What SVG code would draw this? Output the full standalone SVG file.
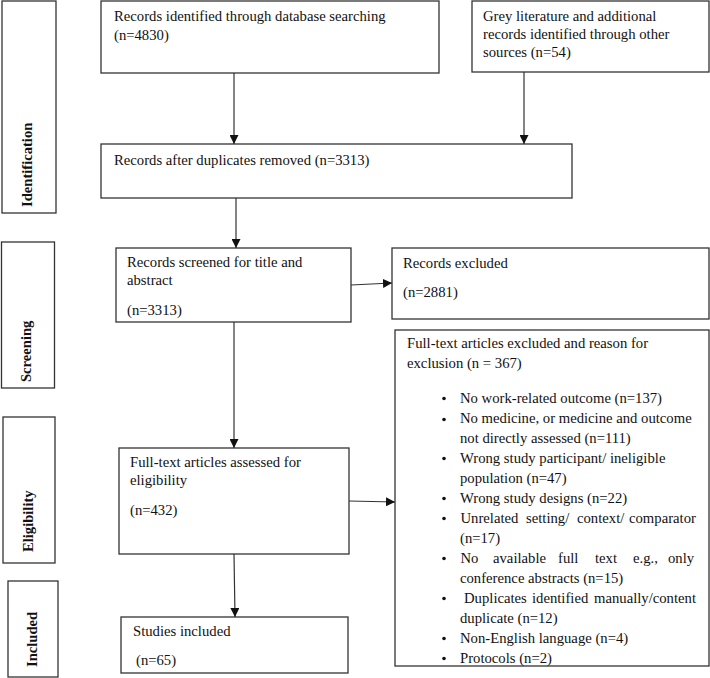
<svg xmlns="http://www.w3.org/2000/svg" width="710" height="678" viewBox="0 0 710 678">
<defs>
<marker id="ah" viewBox="0 0 10 10" refX="10" refY="5" markerWidth="9" markerHeight="9" markerUnits="userSpaceOnUse" orient="auto">
<path d="M0,0 L10,5 L0,10 Z" fill="#111"/>
</marker>
</defs>
<style>
.box{fill:#fff;stroke:#333;stroke-width:1.3}
.t{font-family:"Liberation Serif","Times New Roman",Times,serif;font-size:14.7px;fill:#111}
.side{font-family:"Liberation Serif","Times New Roman",Times,serif;font-size:14.6px;font-weight:bold;fill:#111}
.c{fill:none;stroke:#333;stroke-width:1.2;marker-end:url(#ah)}
.dot{fill:#111}
</style>
<rect width="710" height="678" fill="#fff"/>
<g id="side-identification"><rect class="box" x="2" y="1" width="54" height="212"/><text class="side" transform="translate(32,207) rotate(-90)">Identification</text></g>
<g id="side-screening"><rect class="box" x="1.5" y="242" width="53" height="146"/><text class="side" transform="translate(31,382) rotate(-90)">Screening</text></g>
<g id="side-eligibility"><rect class="box" x="3" y="417" width="52" height="146"/><text class="side" transform="translate(33,552) rotate(-90)">Eligibility</text></g>
<g id="side-included"><rect class="box" x="8" y="581" width="50" height="96"/><text class="side" transform="translate(37,667) rotate(-90)">Included</text></g>
<g id="n-db"><rect class="box" x="101" y="1" width="338" height="72"/><text class="t" x="114" y="21">Records identified through database searching</text><text class="t" x="114" y="40">(n=4830)</text></g>
<g id="n-grey"><rect class="box" x="472" y="1" width="237" height="71"/><text class="t" x="483" y="21">Grey literature and additional</text><text class="t" x="483" y="39">records identified through other</text><text class="t" x="483" y="57">sources (n=54)</text></g>
<g id="n-dup"><rect class="box" x="101" y="144" width="471" height="54"/><text class="t" x="114" y="165">Records after duplicates removed (n=3313)</text></g>
<g id="n-screened"><rect class="box" x="116" y="248" width="235" height="74"/><text class="t" x="127" y="267">Records screened for title and</text><text class="t" x="127" y="285">abstract</text><text class="t" x="127" y="315">(n=3313)</text></g>
<g id="n-excluded"><rect class="box" x="392" y="248" width="317" height="71"/><text class="t" x="403" y="268">Records excluded</text><text class="t" x="403" y="297">(n=2881)</text></g>
<g id="n-ftexcluded"><rect class="box" x="395" y="330" width="314" height="336"/>
<text class="t" x="407" y="348">Full-text articles excluded and reason for</text>
<text class="t" x="407" y="368">exclusion (n = 367)</text>
<circle class="dot" cx="444" cy="398.5" r="1.8"/><text class="t" x="460" y="403">No work-related outcome (n=137)</text>
<circle class="dot" cx="444" cy="419.5" r="1.8"/><text class="t" x="460" y="423">No medicine, or medicine and outcome</text>
<text class="t" x="460" y="443">not directly assessed (n=111)</text>
<circle class="dot" cx="444" cy="458.5" r="1.8"/><text class="t" x="460" y="463">Wrong study participant/ ineligible</text>
<text class="t" x="460" y="483">population (n=47)</text>
<circle class="dot" cx="444" cy="498.5" r="1.8"/><text class="t" x="460" y="503">Wrong study designs (n=22)</text>
<circle class="dot" cx="444" cy="518.5" r="1.8"/><text class="t" y="523"><tspan x="460.5">Unrelated</tspan> <tspan x="526">setting/</tspan> <tspan x="577">context/</tspan> <tspan x="629">comparator</tspan></text>
<text class="t" x="460" y="543">(n=17)</text>
<circle class="dot" cx="444" cy="558.5" r="1.8"/><text class="t" y="563"><tspan x="460.5">No</tspan> <tspan x="493">available</tspan> <tspan x="558">full</tspan> <tspan x="595">text</tspan> <tspan x="633">e.g.,</tspan> <tspan x="668">only</tspan></text>
<text class="t" x="460" y="583">conference abstracts (n=15)</text>
<circle class="dot" cx="444" cy="598.5" r="1.8"/><text class="t" y="603"><tspan x="464">Duplicates</tspan> <tspan x="532">identified</tspan> <tspan x="594">manually/content</tspan></text>
<text class="t" x="460" y="623">duplicate (n=12)</text>
<circle class="dot" cx="444" cy="638.5" r="1.8"/><text class="t" x="460" y="643">Non-English language (n=4)</text>
<circle class="dot" cx="444" cy="658.5" r="1.8"/><text class="t" x="460" y="663">Protocols (n=2)</text>
</g>
<g id="n-assessed"><rect class="box" x="119" y="448" width="230" height="106"/><text class="t" x="130" y="467">Full-text articles assessed for</text><text class="t" x="130" y="485">eligibility</text><text class="t" x="130" y="515">(n=432)</text></g>
<g id="n-included"><rect class="box" x="121" y="617" width="227" height="56"/><text class="t" x="133" y="636">Studies included</text><text class="t" x="136" y="665">(n=65)</text></g>
<g id="connectors">
<line class="c" x1="234" y1="73" x2="234" y2="144"/>
<line class="c" x1="524" y1="72" x2="524" y2="144"/>
<line class="c" x1="236" y1="198" x2="236" y2="248"/>
<line class="c" x1="351" y1="285" x2="392" y2="283"/>
<line class="c" x1="234" y1="322" x2="234" y2="448"/>
<line class="c" x1="349" y1="501" x2="395" y2="502"/>
<line class="c" x1="234" y1="554" x2="235" y2="617"/>
</g>
</svg>
